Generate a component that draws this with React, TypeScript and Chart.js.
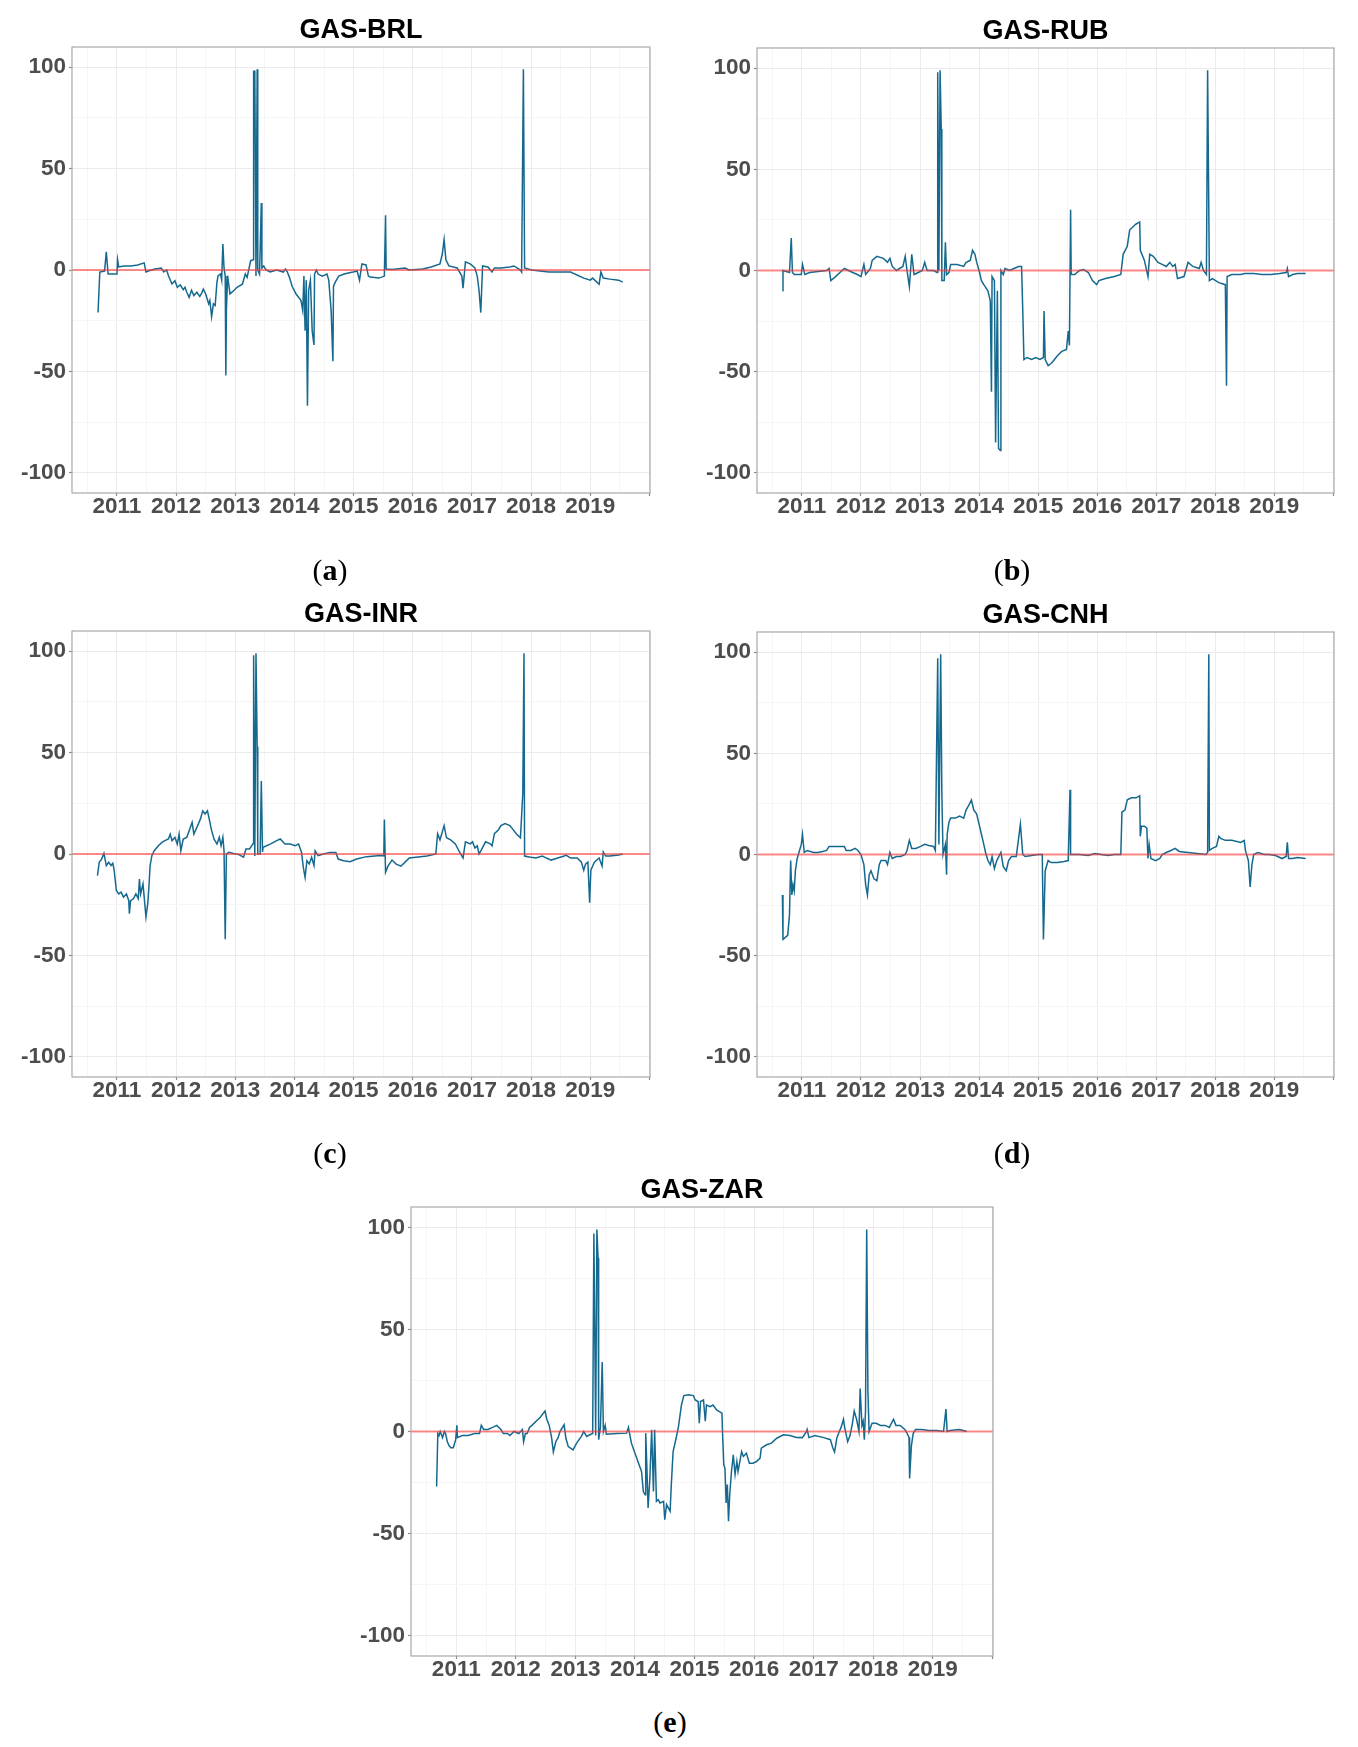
import React, { useEffect, useRef } from "react";
import { Chart, registerables } from "chart.js";

Chart.register(...registerables);

// ---------------- data (decimal year, value) ----------------
const brlDates = [
  2010.68, 2010.71, 2010.79, 2010.82, 2010.85, 2010.87, 2011.0, 2011.01, 2011.03, 2011.12, 2011.24, 2011.35,
  2011.46, 2011.49, 2011.53, 2011.64, 2011.75, 2011.79, 2011.84, 2011.87, 2011.93, 2011.98, 2012.02, 2012.07,
  2012.12, 2012.15, 2012.18, 2012.22, 2012.26, 2012.3, 2012.35, 2012.4, 2012.43, 2012.46, 2012.5, 2012.55,
  2012.57, 2012.6, 2012.63, 2012.66, 2012.69, 2012.71, 2012.75, 2012.77, 2012.79, 2012.81, 2012.83, 2012.84,
  2012.85, 2012.87, 2012.91, 2012.98, 2013.03, 2013.12, 2013.17, 2013.2, 2013.26, 2013.3, 2013.31, 2013.33,
  2013.35, 2013.37, 2013.38, 2013.41, 2013.44, 2013.45, 2013.48, 2013.52, 2013.59, 2013.7, 2013.81, 2013.85,
  2013.88, 2013.92, 2013.96, 2014.03, 2014.11, 2014.14, 2014.16, 2014.18, 2014.2, 2014.22, 2014.24, 2014.27,
  2014.3, 2014.33, 2014.34, 2014.37, 2014.4, 2014.47, 2014.55, 2014.58, 2014.62, 2014.65, 2014.66, 2014.69,
  2014.75, 2014.84, 2014.91, 2014.99, 2015.06, 2015.1, 2015.14, 2015.21, 2015.25, 2015.28, 2015.43, 2015.52,
  2015.54, 2015.55, 2015.65, 2015.87, 2015.94, 2016.17, 2016.31, 2016.46, 2016.5, 2016.53, 2016.56, 2016.61,
  2016.75, 2016.83, 2016.85, 2016.89, 2016.97, 2017.05, 2017.09, 2017.12, 2017.15, 2017.18, 2017.27, 2017.34,
  2017.38, 2017.49, 2017.64, 2017.71, 2017.82, 2017.84, 2017.87, 2017.89, 2018.01, 2018.15, 2018.3, 2018.52,
  2018.67, 2018.74, 2018.89, 2019.0, 2019.04, 2019.15, 2019.18, 2019.22, 2019.33, 2019.48, 2019.55,
];
const brlValues = [
  -21, -1, -0.5, 9, -2, -2, -2, 5, 1.5, 2, 2, 2.5,
  3.5, -1, -0.5, 0.5, 1, -1, 0, -2.8, -6.9, -5.3, -8.5, -7.3,
  -9.7, -8.5, -11, -13.5, -10, -12.6, -11, -13, -11.5, -9.4, -11.8, -16.7,
  -15, -23, -16.7, -17.5, -6, -2.8, -2, -5, 12.8, 1, -3, -52,
  -20, -2.8, -11.8, -10, -8.5, -7, -2, -3.6, 4.6, 5, 98, 98,
  -3, 99, 0, -2, 33, 1, 2, 0, -1, 0, -1, 0.5,
  -1, -4, -8, -12, -15, -20, -3, -30, -5, -67, -10, -5,
  -30, -37, -2, 0, -2, -3, -2, -5, -20, -45, -8, -6,
  -3, -2, -1.5, -1, -0.5, -5, 3, 2.5, -3, -3.5, -4, -3,
  27, 0.5, 0.3, 1, 0, 0.5, 1.5, 3, 8, 15, 5, 2,
  1, -3, -9, 4, 3, 1, -3, -10, -21, 2, 1.5, -1,
  1, 1, 1.5, 2, 0, -1, 99, 1, 0, -0.5, -1, -1,
  -1, -2, -4, -5, -4, -7, -1, -4, -4.5, -5, -6,
];

const rubDates = [
  2010.67, 2010.68, 2010.79, 2010.82, 2010.84, 2010.87, 2010.99, 2011.01, 2011.05, 2011.13, 2011.42, 2011.46,
  2011.49, 2011.57, 2011.68, 2011.72, 2011.79, 2011.86, 2011.94, 2012.0, 2012.05, 2012.08, 2012.16, 2012.19,
  2012.27, 2012.38, 2012.45, 2012.49, 2012.53, 2012.6, 2012.71, 2012.75, 2012.78, 2012.82, 2012.86, 2012.9,
  2012.97, 2013.04, 2013.08, 2013.12, 2013.23, 2013.29, 2013.3, 2013.32, 2013.34, 2013.36, 2013.37, 2013.41,
  2013.43, 2013.45, 2013.49, 2013.52, 2013.63, 2013.74, 2013.78, 2013.85, 2013.89, 2013.93, 2013.96, 2014.0,
  2014.04, 2014.08, 2014.15, 2014.19, 2014.21, 2014.22, 2014.26, 2014.28, 2014.31, 2014.33, 2014.36, 2014.37,
  2014.41, 2014.44, 2014.52, 2014.59, 2014.67, 2014.72, 2014.74, 2014.76, 2014.81, 2014.89, 2014.96, 2015.03,
  2015.09, 2015.1, 2015.12, 2015.17, 2015.22, 2015.25, 2015.33, 2015.4, 2015.48, 2015.51, 2015.53, 2015.55,
  2015.56, 2015.62, 2015.7, 2015.77, 2015.85, 2015.92, 2015.99, 2016.03, 2016.14, 2016.29, 2016.4, 2016.44,
  2016.51, 2016.55, 2016.62, 2016.66, 2016.72, 2016.73, 2016.8, 2016.86, 2016.89, 2016.95, 2017.03, 2017.1,
  2017.17, 2017.23, 2017.28, 2017.32, 2017.36, 2017.47, 2017.54, 2017.62, 2017.73, 2017.76, 2017.8, 2017.85,
  2017.87, 2017.9, 2017.95, 2018.06, 2018.17, 2018.19, 2018.2, 2018.28, 2018.43, 2018.5, 2018.65, 2018.79,
  2018.94, 2019.09, 2019.2, 2019.22, 2019.24, 2019.31, 2019.39, 2019.53,
];
const rubValues = [
  -10, 0, -1, 16, -1, -2, -2, 3, -2, -1, 0, 1,
  -5, -3, 0, 1, 0, -1, -2, -3, 3, -2, 1, 5,
  7, 6, 4, 6, 2, 0, 2, 7, 0, -8, 8, -2,
  -1, 0, 4, 0, 0, -1, 98, 0, 99, 70, -5, -5,
  14, -2, -1, 3, 3, 2, 4, 5, 10, 8, 4, 0,
  -5, -7, -10, -15, -60, -3, -5, -85, -10, -88, -89, 0,
  -2, 1, 0, 1, 2, 2, -20, -44, -43, -44, -43, -44,
  -43, -20, -44, -47, -46, -45, -42, -40, -39, -30, -37, 30,
  -2, -2, 0, 0.5, -1, -5, -7, -5, -4, -3, -2, 8,
  12, 20, 22, 23, 24, 10, 5, -3, 8, 7, 4, 3,
  2, 4, 2, 3, -4, -3, 4, 2, 1, 4, 0, -2,
  99, -5, -4, -6, -7, -57, -3, -2, -2, -1.5, -1.5, -2,
  -2, -1.5, -1, 1, -3, -2, -1.5, -1.5,
];

const inrDates = [
  2010.67, 2010.7, 2010.74, 2010.78, 2010.82, 2010.86, 2010.9, 2010.93, 2010.95, 2010.99, 2011.03, 2011.07,
  2011.11, 2011.16, 2011.2, 2011.21, 2011.23, 2011.28, 2011.32, 2011.36, 2011.38, 2011.4, 2011.44, 2011.46,
  2011.49, 2011.52, 2011.54, 2011.56, 2011.59, 2011.63, 2011.7, 2011.76, 2011.81, 2011.87, 2011.9, 2011.93,
  2011.98, 2012.02, 2012.05, 2012.08, 2012.12, 2012.18, 2012.24, 2012.27, 2012.3, 2012.35, 2012.41, 2012.45,
  2012.49, 2012.53, 2012.56, 2012.6, 2012.64, 2012.69, 2012.73, 2012.76, 2012.79, 2012.81, 2012.83, 2012.85,
  2012.89, 2012.97, 2013.06, 2013.14, 2013.18, 2013.24, 2013.3, 2013.31, 2013.33, 2013.35, 2013.37, 2013.38,
  2013.42, 2013.44, 2013.46, 2013.47, 2013.59, 2013.7, 2013.76, 2013.84, 2013.93, 2014.01, 2014.07, 2014.12,
  2014.15, 2014.18, 2014.21, 2014.25, 2014.29, 2014.33, 2014.35, 2014.4, 2014.49, 2014.6, 2014.7, 2014.74,
  2014.83, 2014.94, 2015.05, 2015.22, 2015.45, 2015.51, 2015.52, 2015.54, 2015.58, 2015.65, 2015.72, 2015.8,
  2015.87, 2015.94, 2016.09, 2016.24, 2016.39, 2016.42, 2016.46, 2016.53, 2016.57, 2016.64, 2016.72, 2016.79,
  2016.85, 2016.89, 2016.97, 2017.01, 2017.05, 2017.09, 2017.12, 2017.16, 2017.23, 2017.31, 2017.34, 2017.38,
  2017.45, 2017.49, 2017.56, 2017.64, 2017.67, 2017.75, 2017.82, 2017.86, 2017.88, 2017.89, 2017.97, 2018.08,
  2018.19, 2018.26, 2018.34, 2018.45, 2018.56, 2018.59, 2018.67, 2018.78, 2018.85, 2018.89, 2018.92, 2018.96,
  2018.99, 2019.01, 2019.07, 2019.15, 2019.2, 2019.22, 2019.26, 2019.33, 2019.48, 2019.55,
];
const inrValues = [
  -10.7, -4.1, -2.5, 0.3, -5.7, -4.1, -5.7, -4.6, -7.4, -18, -19.7, -18.8,
  -21.3, -19.7, -23, -29.5, -23, -22, -19.7, -22, -12.3, -19.7, -14.8, -21.3,
  -31, -24.6, -16.4, -5.7, -0.8, 1.6, 4.1, 5.7, 6.6, 7.4, 9.8, 6.6,
  8.2, 4.9, 9.8, 1.6, 7.4, 8.2, 13.1, 15.6, 9.8, 13.1, 17.2, 21.3,
  19.7, 21.3, 17.2, 11.5, 7.4, 4.9, 8.2, 4.1, 8.2, 1.6, -42, 0,
  0.8, 0.3, -0.3, -1.6, 2.5, 2.5, 5, 98, -1, 99, 53, 0,
  0, 36, 1, 3.3, 4.9, 6.6, 7.4, 4.9, 4.9, 4.1, 4.9, 0.8,
  -6.6, -11.5, -3.3, -4.9, -1.6, -5.7, 1.6, -0.8, 0, 0.8, 0.8, -2.5,
  -3.3, -3.8, -2.5, -1.3, -0.8, -1, 17, -9, -6, -3, -5, -6,
  -4, -2, -1.5, -1, 0, 10, 7, 14, 8, 7, 5, 1,
  -2, 6, 5, 6, 3, 4, 0, 2, 6, 5, 4, 10,
  12, 14, 15, 14, 13, 10, 8, 30, 99, -1, -1.5, -2,
  -1, -2, -3, -2, -1, -0.5, -2, -2, -4, -8, -5, -4,
  -24, -8, -4, -2, -6, 1, -1, -1, -0.5, 0,
];

const cnhDates = [
  2010.67, 2010.68, 2010.72, 2010.76, 2010.79, 2010.81, 2010.83, 2010.85, 2010.87, 2010.89, 2010.92, 2010.96,
  2010.99, 2011.01, 2011.04, 2011.09, 2011.2, 2011.27, 2011.35, 2011.42, 2011.46, 2011.57, 2011.72, 2011.75,
  2011.83, 2011.9, 2011.95, 2012.0, 2012.05, 2012.08, 2012.11, 2012.14, 2012.17, 2012.22, 2012.27, 2012.31,
  2012.34, 2012.42, 2012.45, 2012.49, 2012.53, 2012.6, 2012.67, 2012.75, 2012.78, 2012.82, 2012.86, 2012.93,
  2013.01, 2013.08, 2013.15, 2013.23, 2013.26, 2013.3, 2013.32, 2013.35, 2013.37, 2013.39, 2013.43, 2013.45,
  2013.46, 2013.49, 2013.52, 2013.6, 2013.67, 2013.74, 2013.78, 2013.82, 2013.87, 2013.91, 2013.96, 2014.0,
  2014.04, 2014.08, 2014.11, 2014.15, 2014.19, 2014.22, 2014.26, 2014.3, 2014.37, 2014.41, 2014.46, 2014.5,
  2014.55, 2014.63, 2014.7, 2014.74, 2014.78, 2014.89, 2015.0, 2015.07, 2015.09, 2015.12, 2015.17, 2015.22,
  2015.33, 2015.44, 2015.51, 2015.54, 2015.55, 2015.7, 2015.85, 2015.96, 2016.07, 2016.18, 2016.29, 2016.36,
  2016.4, 2016.42, 2016.47, 2016.51, 2016.58, 2016.66, 2016.72, 2016.73, 2016.75, 2016.8, 2016.84, 2016.86,
  2016.88, 2016.91, 2016.99, 2017.06, 2017.1, 2017.17, 2017.25, 2017.32, 2017.39, 2017.54, 2017.69, 2017.84,
  2017.87, 2017.89, 2017.9, 2017.95, 2018.02, 2018.06, 2018.09, 2018.17, 2018.28, 2018.43, 2018.49, 2018.51,
  2018.56, 2018.59, 2018.62, 2018.65, 2018.72, 2018.83, 2018.91, 2019.02, 2019.13, 2019.2, 2019.22, 2019.24,
  2019.31, 2019.39, 2019.53,
];
const cnhValues = [
  -20, -42, -41, -40, -30, -3, -20, -15, -18, -8, -2, 2,
  5, 10, 1, 2, 1, 1, 1.5, 2, 4, 4, 4, 2,
  2, 3, 2, 0, -5, -15, -20, -10, -8, -12, -13, -5,
  -3, -3, -5, 1, -2, -1, -1, 0, 2, 7, 3, 3,
  4, 5, 4.5, 4, 2, 97, 5, 99, 30, 0, 5, -10,
  10, 16, 18, 18, 19, 18, 22, 24, 27, 22, 20, 15,
  10, 5, 1, -3, -5, -1, -7, -3, 1, -6, -8, -3,
  -1, -1, 15, 0, -1, -0.5, 0, 0, -42, -8, -3, -4,
  -4, -3.5, -3, 32, 0, 0, -0.5, 0.5, 0, -0.5, 0, 0,
  0, 21, 22, 27, 28, 28, 29, 9, 14, 14, 13, -2,
  5, -2, -3, -2, 0, 1, 2, 3, 1.5, 1, 0.5, 0,
  1, 99, 2, 3, 4, 9, 8, 7, 7, 6, 7, 2,
  -3, -16, -5, 0, 1, 0, 0, -0.5, -2, -1, 6, -2,
  -2, -1.5, -2,
];

const zarDates = [
  2010.67, 2010.69, 2010.71, 2010.73, 2010.77, 2010.8, 2010.82, 2010.85, 2010.88, 2010.91, 2010.95, 2010.99,
  2011.01, 2011.02, 2011.1, 2011.2, 2011.31, 2011.39, 2011.42, 2011.46, 2011.53, 2011.61, 2011.68, 2011.75,
  2011.79, 2011.86, 2011.9, 2011.97, 2012.05, 2012.11, 2012.13, 2012.16, 2012.19, 2012.23, 2012.27, 2012.34,
  2012.41, 2012.49, 2012.52, 2012.56, 2012.6, 2012.63, 2012.67, 2012.71, 2012.74, 2012.81, 2012.84, 2012.88,
  2012.96, 2013.02, 2013.1, 2013.14, 2013.19, 2013.24, 2013.29, 2013.31, 2013.34, 2013.36, 2013.38, 2013.39,
  2013.42, 2013.45, 2013.47, 2013.5, 2013.52, 2013.7, 2013.86, 2013.89, 2013.94, 2014.0, 2014.06, 2014.11,
  2014.14, 2014.17, 2014.18, 2014.2, 2014.22, 2014.25, 2014.28, 2014.31, 2014.33, 2014.36, 2014.39, 2014.42,
  2014.48, 2014.5, 2014.53, 2014.59, 2014.61, 2014.64, 2014.69, 2014.73, 2014.78, 2014.82, 2014.9, 2014.98,
  2015.01, 2015.06, 2015.08, 2015.1, 2015.15, 2015.18, 2015.2, 2015.26, 2015.31, 2015.37, 2015.46, 2015.47,
  2015.49, 2015.51, 2015.53, 2015.55, 2015.57, 2015.59, 2015.62, 2015.65, 2015.68, 2015.71, 2015.73, 2015.79,
  2015.82, 2015.87, 2015.92, 2015.98, 2016.04, 2016.1, 2016.12, 2016.21, 2016.29, 2016.38, 2016.49, 2016.6,
  2016.71, 2016.81, 2016.88, 2016.89, 2016.92, 2017.02, 2017.17, 2017.28, 2017.32, 2017.35, 2017.39, 2017.43,
  2017.46, 2017.5, 2017.52, 2017.57, 2017.61, 2017.65, 2017.68, 2017.72, 2017.76, 2017.78, 2017.81, 2017.83,
  2017.85, 2017.87, 2017.89, 2017.91, 2017.93, 2017.98, 2018.05, 2018.12, 2018.2, 2018.27, 2018.34, 2018.38,
  2018.45, 2018.53, 2018.57, 2018.6, 2018.61, 2018.64, 2018.67, 2018.71, 2018.82, 2018.93, 2019.07, 2019.18,
  2019.22, 2019.24, 2019.29, 2019.44, 2019.51, 2019.57,
];
const zarValues = [
  -27, -1, -2, 0, -3, 0, -1, -5, -7, -8, -8, -4,
  3, -3, -2, -2, -1, -1, 3, 1, 1, 2, 3, 1,
  -1, -1, -2, 0, -1, 1, -5, -1, -1, 2, 3, 5,
  7, 10, 6, 3, -3, -10, -5, -3, 0, 3.3, -3.3, -7.4,
  -9, -5.7, -2.4, 0, -2.4, -1.6, -1, 97, -2, 99, 85, -4,
  2, 34, 0, 3, -1.3, -1, -0.8, 2, -5.7, -10.6, -15.5, -19.6,
  -29.4, -31, -0.8, -17.9, -37.5, -22.8, 0.8, -29.4, 0.8, -34.2, -33.4, -35,
  -34.2, -43.2, -35.8, -39.1, -26, -9.8, -3.3, 2.4, 13, 17.6, 18, 17.6,
  15.5, 14.7, 4.1, 14.7, 15.5, 5, 13, 12.2, 13, 10.6, 9, -0.8,
  -16.3, -17.9, -35, -26, -44, -31, -19.6, -11.4, -21, -14.7, -19.6, -9.8,
  -12.2, -10.6, -15.5, -15.5, -14.7, -13, -8.2, -6.5, -5.7, -3.3, -1.6, -2,
  -2.9, -3, 0, 1, -3, -2, -3, -4, -8, -10, -3, 0,
  2, 6, 2, -5, -2, 4, 10, 6, 0, 21, 3, 5,
  -4, 10, 99, 20, 0, 4, 4, 3, 3, 2, 6, 3,
  3, 1, -1, -3, -23, -7, -1, 1, 1, 0.5, 0.5, 0,
  11, 0, 0.5, 1, 0.5, 0,
];

// axis settings / tick labels
const xMin = 2010.24;
const xMax = 2020.01;
const yMin = -110;
const yMax = 110;
const yearLabels = [2011, 2012, 2013, 2014, 2015, 2016, 2017, 2018, 2019];
const yLabels = [-100, -50, 0, 50, 100];

// ---------------- styling ----------------
const LINE_COLOR = "#15698f";
const ZERO_COLOR = "rgba(255, 55, 55, 0.58)";
const FRAME_COLOR = "#a8a8a8";
const TICK_TEXT = "#4d4d4d";
const FONT = "'Liberation Sans', Arial, sans-serif";
const Y_AXIS_W = 72;
const X_AXIS_H = 40;
const TITLE_H = 47;
const RIGHT_PAD = 8;

type Box = { l: number; t: number; r: number; b: number };
type PanelDef = {
  title: string;
  letter: string;
  dates: number[];
  values: number[];
  box: Box;
  labelX: number;
  labelY: number;
};

const panels: PanelDef[] = [
  { title: "GAS-BRL", letter: "a", dates: brlDates, values: brlValues, box: { l: 72, t: 47, r: 650, b: 493 }, labelX: 330, labelY: 570 },
  { title: "GAS-RUB", letter: "b", dates: rubDates, values: rubValues, box: { l: 757, t: 48, r: 1334, b: 493 }, labelX: 1012, labelY: 570 },
  { title: "GAS-INR", letter: "c", dates: inrDates, values: inrValues, box: { l: 72, t: 631, r: 650, b: 1077 }, labelX: 330, labelY: 1153 },
  { title: "GAS-CNH", letter: "d", dates: cnhDates, values: cnhValues, box: { l: 757, t: 632, r: 1334, b: 1077 }, labelX: 1012, labelY: 1153 },
  { title: "GAS-ZAR", letter: "e", dates: zarDates, values: zarValues, box: { l: 411, t: 1207, r: 993, b: 1656 }, labelX: 670, labelY: 1722 },
];

const zeroLinePlugin = {
  id: "zeroLine",
  afterDatasetsDraw(chart: any) {
    const { ctx, chartArea } = chart;
    const y = chart.scales.y.getPixelForValue(0);
    ctx.save();
    ctx.strokeStyle = ZERO_COLOR;
    ctx.lineWidth = 2.2;
    ctx.beginPath();
    ctx.moveTo(chartArea.left, y);
    ctx.lineTo(chartArea.right, y);
    ctx.stroke();
    ctx.restore();
  },
};

const framePlugin = {
  id: "frame",
  afterDraw(chart: any) {
    const { ctx, chartArea } = chart;
    ctx.save();
    ctx.strokeStyle = FRAME_COLOR;
    ctx.lineWidth = 1.2;
    ctx.strokeRect(chartArea.left, chartArea.top, chartArea.right - chartArea.left, chartArea.bottom - chartArea.top);
    ctx.restore();
  },
};

function PanelChart({ p }: { p: PanelDef }) {
  const ref = useRef<HTMLCanvasElement | null>(null);
  const w = p.box.r - p.box.l + Y_AXIS_W + RIGHT_PAD;
  const h = p.box.b - p.box.t + TITLE_H + X_AXIS_H;
  const left = p.box.l - Y_AXIS_W;
  const top = p.box.t - TITLE_H;

  useEffect(() => {
    if (!ref.current) return;
    const points = p.dates.map((d, i) => ({ x: d, y: p.values[i] }));
    const chart = new Chart(ref.current, {
      type: "line",
      data: {
        datasets: [
          {
            data: points,
            borderColor: LINE_COLOR,
            borderWidth: 1.5,
            pointRadius: 0,
            pointHoverRadius: 0,
            tension: 0,
            fill: false,
          },
        ],
      },
      options: {
        animation: false,
        responsive: false,
        devicePixelRatio: 1,
        events: [],
        layout: { padding: { left: 0, right: RIGHT_PAD, top: 0, bottom: 0 } },
        plugins: {
          legend: { display: false },
          tooltip: { enabled: false },
          title: {
            display: true,
            text: p.title,
            fullSize: false,
            color: "#000",
            font: { family: FONT, size: 27, weight: "bold", lineHeight: 1.2 },
            padding: { top: 14.6, bottom: 0 },
          },
        },
        scales: {
          x: {
            type: "linear",
            min: xMin,
            max: xMax,
            border: { display: false },
            afterFit: (s: any) => {
              s.height = X_AXIS_H;
            },
            grid: {
              color: (c: any) => (c.tick && Number.isInteger(c.tick.value) ? "#ebebeb" : "#f5f5f5"),
              lineWidth: 1,
              drawTicks: true,
              tickLength: 3,
              tickWidth: 1.2,
              tickColor: (c: any) => (c.tick && Number.isInteger(c.tick.value) ? "#8a8a8a" : "rgba(0,0,0,0)"),
            },
            ticks: {
              stepSize: 0.5,
              includeBounds: false,
              autoSkip: false,
              maxRotation: 0,
              minRotation: 0,
              padding: 0,
              color: TICK_TEXT,
              font: { family: FONT, size: 22.5, weight: "bold", lineHeight: 1 },
              callback: (v: any) => (yearLabels.includes(Number(v)) ? String(v) : ""),
            },
          },
          y: {
            type: "linear",
            min: yMin,
            max: yMax,
            border: { display: false },
            afterFit: (s: any) => {
              s.width = Y_AXIS_W;
            },
            grid: {
              color: (c: any) => (c.tick && c.tick.value % 50 === 0 ? "#ebebeb" : "#f5f5f5"),
              lineWidth: 1,
              drawTicks: true,
              tickLength: 3,
              tickWidth: 1.2,
              tickColor: (c: any) => (c.tick && c.tick.value % 50 === 0 ? "#8a8a8a" : "rgba(0,0,0,0)"),
            },
            ticks: {
              stepSize: 25,
              includeBounds: false,
              autoSkip: false,
              padding: 3,
              color: TICK_TEXT,
              font: { family: FONT, size: 22.5, weight: "bold", lineHeight: 1 },
              callback: (v: any) => (yLabels.includes(Number(v)) ? String(v) : ""),
            },
          },
        },
      },
      plugins: [zeroLinePlugin, framePlugin],
    } as any);
    return () => chart.destroy();
  }, []);

  return (
    <canvas
      ref={ref}
      width={w}
      height={h}
      style={{ position: "absolute", left, top, width: w, height: h }}
    />
  );
}

function PanelLabel({ p }: { p: PanelDef }) {
  return (
    <div
      style={{
        position: "absolute",
        left: p.labelX,
        top: p.labelY - 16,
        transform: "translateX(-50%)",
        fontFamily: "'Liberation Serif', 'DejaVu Serif', serif",
        fontSize: 30,
        lineHeight: "32px",
        color: "#000",
        whiteSpace: "nowrap",
      }}
    >
      (<b>{p.letter}</b>)
    </div>
  );
}

export default function App() {
  return (
    <div
      style={{
        position: "absolute",
        left: 0,
        top: 0,
        width: 1358,
        height: 1747,
        background: "#ffffff",
        overflow: "hidden",
      }}
    >
      {panels.map((p) => (
        <PanelChart key={p.title} p={p} />
      ))}
      {panels.map((p) => (
        <PanelLabel key={p.letter} p={p} />
      ))}
    </div>
  );
}
